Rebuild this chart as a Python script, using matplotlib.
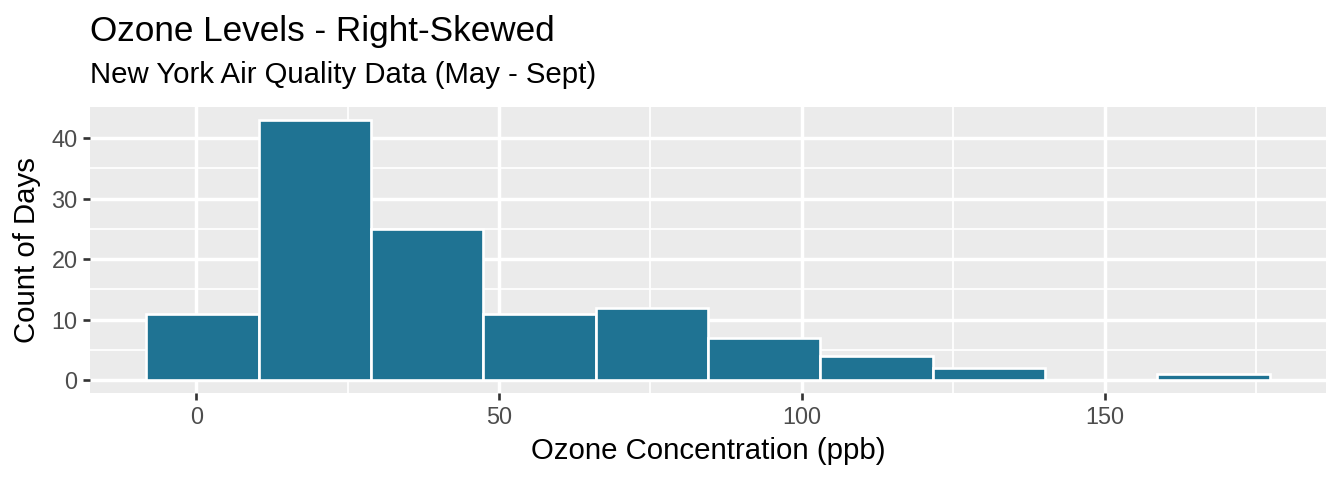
import numpy as np
import matplotlib.pyplot as plt

plt.rcParams['font.family'] = ['Liberation Sans', 'DejaVu Sans']

# histogram of ozone (10 bins), counts
bin_edges = [-8.278, 10.278, 28.833, 47.389, 65.944, 84.5, 103.056, 121.611, 140.167, 158.722, 177.278]
counts = [11, 43, 25, 11, 12, 7, 4, 2, 0, 1]
x_ticks = [0, 50, 100, 150]
y_ticks = [0, 10, 20, 30, 40]

fig = plt.figure(figsize=(7, 2.5), dpi=192)
ax = fig.add_axes([0.067, 0.181, 0.9196, 0.596])
ax.set_facecolor('#EBEBEB')

edges = np.array(bin_edges)
ax.bar(edges[:-1], counts, width=np.diff(edges), align='edge',
       color='#1F7393', edgecolor='white', linewidth=1.0, zorder=3)

rng = edges[-1] - edges[0]
ax.set_xlim(edges[0] - 0.05 * rng, edges[-1] + 0.05 * rng)
ax.set_ylim(-0.05 * max(counts), max(counts) * 1.05)

ax.set_xticks(x_ticks)
ax.set_yticks(y_ticks)
ax.set_xticks([25, 75, 125, 175], minor=True)
ax.set_yticks([5, 15, 25, 35], minor=True)
ax.grid(which='major', color='white', linewidth=1.3, zorder=1)
ax.grid(which='minor', color='white', linewidth=0.65, zorder=1)
ax.set_axisbelow(True)
for s in ax.spines.values():
    s.set_visible(False)
ax.tick_params(which='major', length=2.75, width=1.0, color='#333333',
               labelsize=8.8, labelcolor='#4D4D4D', pad=2)
ax.tick_params(which='minor', length=0)

fig.text(0.067, 0.9146, 'Ozone Levels - Right-Skewed', fontsize=13.2, va='baseline', ha='left')
fig.text(0.067, 0.827, 'New York Air Quality Data (May - Sept)', fontsize=11, va='baseline', ha='left')
ax.set_xlabel('Ozone Concentration (ppb)', fontsize=11, labelpad=3)
ax.set_ylabel('Count of Days', fontsize=11, labelpad=4)

fig.savefig('out.png', dpi=192)
